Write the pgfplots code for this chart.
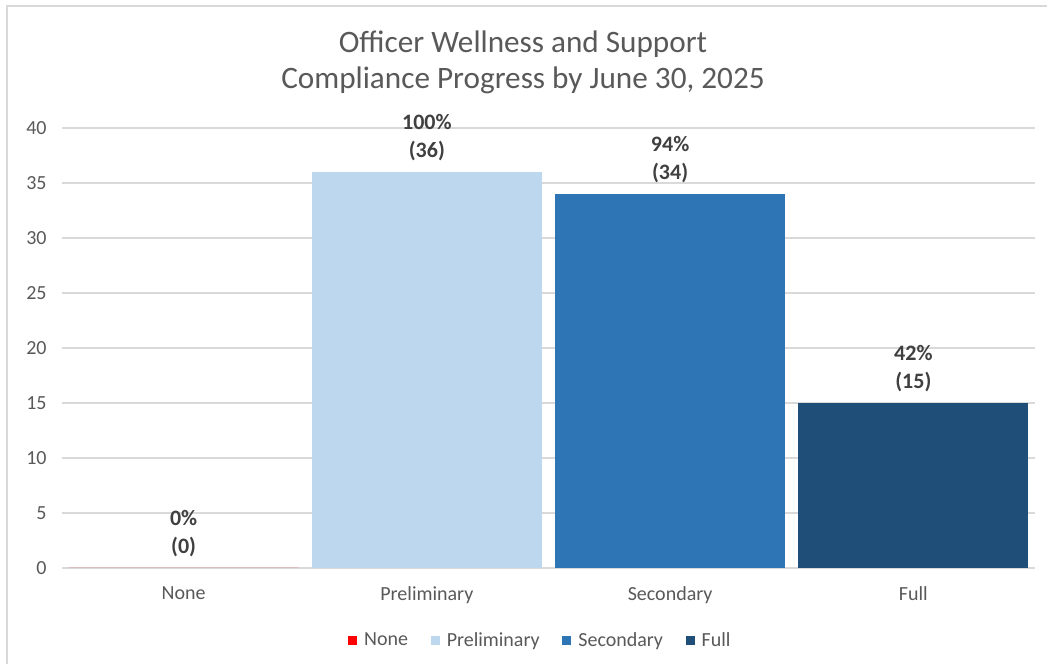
\documentclass[border=0pt]{standalone}
\usepackage{fontspec}
\setmainfont{Carlito}
\usepackage{pgfplots}
\pgfplotsset{compat=1.18}
\definecolor{cnone}{HTML}{FF0000}
\definecolor{cprelim}{HTML}{BDD7EE}
\definecolor{csecond}{HTML}{2E75B6}
\definecolor{cfull}{HTML}{1F4E79}
\definecolor{txtgray}{HTML}{595959}
\definecolor{lblgray}{HTML}{404040}
\definecolor{gridgray}{HTML}{D9D9D9}
\begin{document}
\begin{tikzpicture}
\useasboundingbox (0,0) rectangle (785.25pt,498pt);
\fill[white] (0,0) rectangle (785.25pt,498pt);
\draw[gridgray, line width=1.5pt] (5.25pt,-2pt) -- (5.25pt,493.5pt) -- (790pt,493.5pt);
\node[align=center, text=txtgray, font=\fontsize{23.4}{27}\selectfont] at (392.25pt,451.5pt)
  {Officer Wellness and Support\\Compliance Progress by June 30, 2025};
\begin{axis}[
  at={(46.5pt,72pt)}, anchor=south west,
  scale only axis, width=729.75pt, height=330pt,
  xmin=-0.5, xmax=3.5, ymin=0, ymax=40,
  ytick={0,5,...,40},
  xtick={0,1,2,3},
  xticklabels={None,Preliminary,Secondary,Full},
  ymajorgrids, grid style={draw=gridgray, line width=1pt},
  axis line style={draw=none},
  major tick length=0pt,
  /pgf/number format/assume math mode=true,
  ticklabel style={text=txtgray, font=\fontsize{15}{18}\selectfont},
  yticklabel style={xshift=-8pt},
  xticklabel style={yshift=-10.5pt},
  ybar, bar width=172.5pt, bar shift=0pt,
  nodes near coords,
  point meta=explicit symbolic,
  every node near coord/.append style={align=center, anchor=south, inner sep=0pt, yshift=8.5pt,
     text=lblgray, font=\fontsize{16.5}{21}\selectfont\bfseries},
  legend columns=4,
  legend style={draw=none, fill=none, at={(0.492,-0.164)}, anchor=center,
     font=\fontsize{15}{18}\selectfont, text=txtgray,
     /tikz/every even column/.style={column sep=15pt}},
  legend image code/.code={\fill[#1] (0pt,-3.4pt) rectangle (6.8pt,3.4pt); \path (10pt,0pt);},
]
\addplot[fill=cnone, draw=none] coordinates {(0,0) [0\%\\(0)]};
\addplot[fill=cprelim, draw=none] coordinates {(1,36) [100\%\\(36)]};
\addplot[fill=csecond, draw=none] coordinates {(2,34) [94\%\\(34)]};
\addplot[fill=cfull, draw=none] coordinates {(3,15) [42\%\\(15)]};
\legend{None,Preliminary,Secondary,Full}
\end{axis}
\end{tikzpicture}
\end{document}
